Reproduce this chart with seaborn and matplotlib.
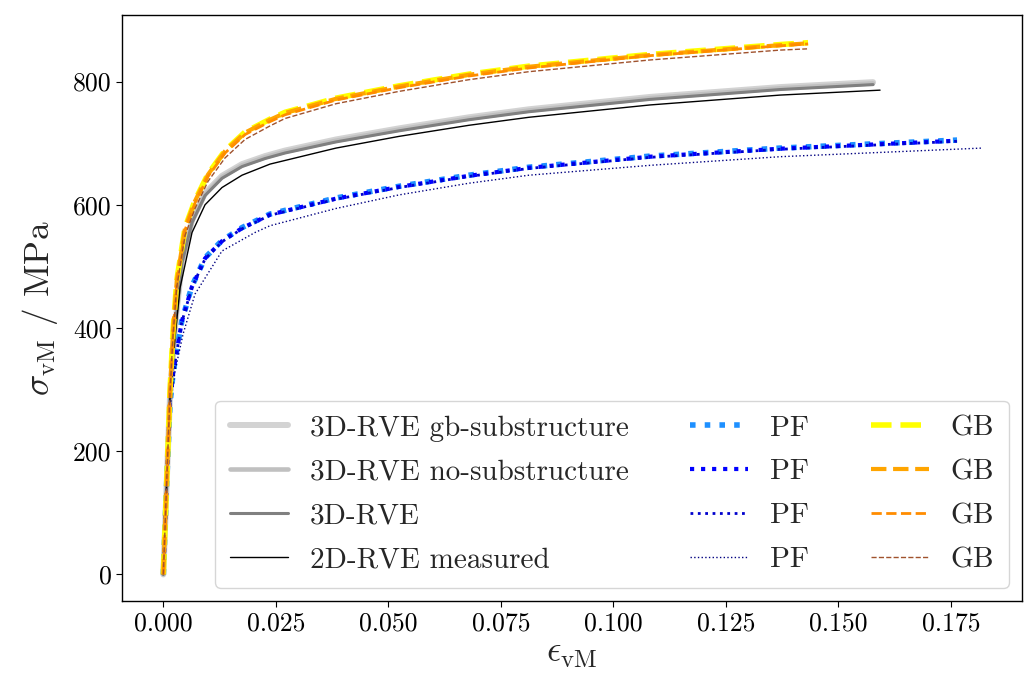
import matplotlib
matplotlib.use("Agg")
import matplotlib.pyplot as plt
import seaborn as sns

# ---------------- data ----------------
# GB group
gb_eps = [0, 0.00076, 0.00149, 0.00216, 0.00298, 0.00482, 0.00704, 0.00993, 0.01371,
          0.01816, 0.02371, 0.02704, 0.03838, 0.05238, 0.06793, 0.08127, 0.10816, 0.13704, 0.14327]
gb_yellow = [0, 152, 298, 395, 477, 563, 607, 650, 688, 718, 739, 750, 773, 793, 812, 825, 844, 860, 863]
gb_orange = [0, 152, 298, 395, 476, 562, 606, 649, 687, 717, 738, 749, 772, 792, 811, 824, 843, 859, 862]
gb_darkorange = [0, 152, 297, 393, 474, 559, 603, 646, 684, 714, 735, 746, 770, 790, 809, 822, 842, 858, 861]
gb_sienna_eps = [0, 0.00076, 0.00149, 0.00216, 0.00298, 0.00482, 0.00704, 0.00993, 0.01371,
                 0.01816, 0.02371, 0.02704, 0.03838, 0.05238, 0.06793, 0.08127, 0.10816, 0.13704, 0.14304]
gb_sienna = [0, 152, 296, 388, 466, 550, 594, 638, 676, 706, 728, 740, 764, 784, 803, 816, 835, 851, 853]

# 3D / 2D RVE group
rve_eps = [0, 0.00076, 0.00149, 0.0026, 0.00416, 0.00638, 0.00927, 0.01304, 0.01749,
           0.0226, 0.02704, 0.03838, 0.05238, 0.06793, 0.08127, 0.10816, 0.13704, 0.15771]
rve_gb_sub = [0, 150, 291, 402, 510, 575, 619, 647, 666, 679, 688, 706, 724, 742, 755, 775, 791, 799]
rve_no_sub = [0, 150, 290, 400, 508, 573, 617, 645, 664, 677, 686, 704, 722, 740, 753, 773, 789, 797]
rve_3d = [0, 150, 289, 398, 506, 571, 615, 643, 662, 675, 684, 702, 720, 738, 751, 771, 787, 795]
rve2d_eps = [0, 0.00076, 0.00149, 0.0026, 0.00371, 0.00638, 0.00927, 0.01304, 0.01749,
             0.02371, 0.03838, 0.05238, 0.06793, 0.08127, 0.10816, 0.13704, 0.15927]
rve_2d = [0, 150, 288, 385, 465, 555, 600, 628, 648, 666, 692, 711, 729, 742, 762, 778, 786]

# PF group
pf_eps = [0, 0.00076, 0.00149, 0.00216, 0.0026, 0.00409, 0.00631, 0.00927, 0.01304,
          0.01749, 0.02371, 0.03838, 0.05238, 0.06793, 0.08127, 0.10816, 0.13704, 0.17638]
pf_dodger = [0, 150, 277, 326, 346, 411, 467, 514, 542, 563, 585, 611, 630, 648, 661, 679, 692, 705]
pf_blue = [0, 150, 277, 325, 345, 410, 466, 513, 541, 562, 584, 610, 629, 647, 660, 678, 691, 704]
pf_medium = [0, 150, 276, 324, 344, 409, 465, 512, 540, 561, 583, 609, 628, 646, 659, 677, 690, 703]
pf_navy_eps = [0, 0.00076, 0.00149, 0.0026, 0.00438, 0.00704, 0.01304, 0.02038, 0.02371,
               0.03838, 0.05238, 0.06793, 0.08127, 0.10816, 0.13704, 0.18193]
pf_navy = [0, 150, 270, 330, 390, 455, 525, 555, 566, 594, 616, 635, 648, 664, 678, 692]

xticks = [0.000, 0.025, 0.050, 0.075, 0.100, 0.125, 0.150, 0.175]
yticks = [0, 200, 400, 600, 800]

# ---------------- style ----------------
sns.set_style("ticks")
plt.rcParams.update({
    "font.family": "serif",
    "font.serif": ["cmr10", "DejaVu Serif"],
    "mathtext.fontset": "cm",
    "axes.formatter.use_mathtext": True,
    "axes.edgecolor": "black",
    "axes.linewidth": 1.0,
    "xtick.color": "black",
    "ytick.color": "black",
    "xtick.major.size": 4,
    "ytick.major.size": 4,
    "axes.unicode_minus": False,
})

fig = plt.figure(figsize=(10.27, 6.87), dpi=100)
ax = fig.add_axes([0.1188, 0.1252, 0.8763, 0.853])

curves = [
    (rve_eps, rve_gb_sub, "lightgray", 4.3, "-", "3D-RVE gb-substructure"),
    (rve_eps, rve_no_sub, "silver", 3.3, "-", "3D-RVE no-substructure"),
    (rve_eps, rve_3d, "gray", 2.2, "-", "3D-RVE"),
    (rve2d_eps, rve_2d, "black", 1.0, "-", "2D-RVE measured"),
    (pf_eps, pf_dodger, "dodgerblue", 4.0, ":", "PF"),
    (pf_eps, pf_blue, "blue", 3.0, ":", "PF"),
    (pf_eps, pf_medium, "mediumblue", 2.0, ":", "PF"),
    (pf_navy_eps, pf_navy, "navy", 1.0, ":", "PF"),
    (gb_eps, gb_yellow, "yellow", 4.0, "--", "GB"),
    (gb_eps, gb_orange, "orange", 3.0, "--", "GB"),
    (gb_eps, gb_darkorange, "darkorange", 2.0, "--", "GB"),
    (gb_sienna_eps, gb_sienna, "sienna", 1.0, "--", "GB"),
]

for xs, ys, col, lw, ls, lab in curves:
    sns.lineplot(x=xs, y=ys, ax=ax, color=col, linewidth=lw, linestyle=ls,
                 label=lab, sort=False, estimator=None)

ax.set_xticks(xticks)
ax.set_xticklabels([f"{t:.3f}" for t in xticks])
ax.set_yticks(yticks)
ax.set_yticklabels([str(t) for t in yticks])
ax.tick_params(labelsize=18.5)
ax.set_xlim(-0.00918, 0.1908)
ax.set_ylim(-43, 908)

ax.set_xlabel(r"$\epsilon_\mathrm{vM}$", fontsize=25.5, labelpad=2)
ax.set_ylabel(r"$\sigma_\mathrm{vM}$ / MPa", fontsize=25.5, labelpad=9)

leg = ax.legend(loc="lower right", ncol=3, fontsize=21, frameon=True,
                fancybox=True, edgecolor="0.8", columnspacing=2.1,
                labelspacing=0.6, handlelength=2.0, handletextpad=0.75,
                borderpad=0.5, borderaxespad=0.45)

fig.savefig("out.png", dpi=100)
